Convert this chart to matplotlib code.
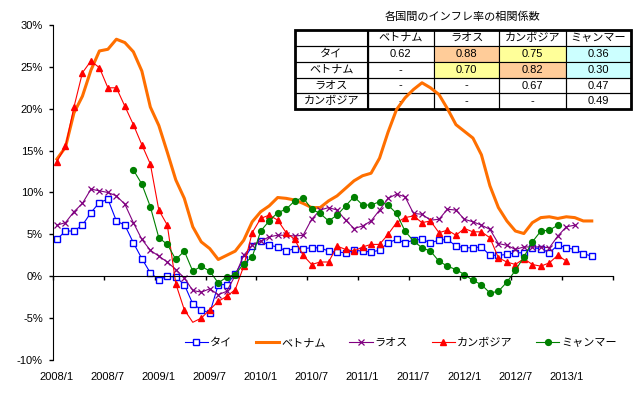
import numpy as np
import matplotlib.pyplot as plt
from matplotlib.patches import Rectangle

plt.rcParams['font.family'] = ['Liberation Sans', 'Noto Sans CJK JP']
plt.rcParams['font.size'] = 8

# 月次データ (2008/1 から, %)
n_months = 66
xlabels = ['2008/1', '2008/7', '2009/1', '2009/7', '2010/1', '2010/7',
           '2011/1', '2011/7', '2012/1', '2012/7', '2013/1']

thai = [4.4, 5.4, 5.4, 6.1, 7.6, 8.8, 9.2, 6.6, 6.1, 4.0, 2.1, 0.4, -0.4, 0.0, -0.1, -1.0,
        -3.3, -4.0, -4.4, -1.0, -1.0, 0.3, 2.0, 3.6, 4.2, 3.7, 3.5, 3.0, 3.3, 3.3, 3.4, 3.4,
        3.0, 2.9, 2.8, 3.1, 3.0, 2.9, 3.1, 4.0, 4.4, 4.0, 4.3, 4.4, 4.0, 4.3, 4.4, 3.6,
        3.4, 3.4, 3.5, 2.5, 2.5, 2.6, 2.8, 2.8, 3.4, 3.3, 2.8, 3.7, 3.4, 3.2, 2.7, 2.4]
vietnam = [14.0, 15.4, 19.5, 21.5, 24.6, 26.9, 27.1, 28.3, 27.9, 26.8, 24.5, 20.2, 18.0, 14.8,
           11.5, 9.3, 5.9, 4.1, 3.3, 2.0, 2.5, 3.0, 4.3, 6.5, 7.7, 8.4, 9.4, 9.3, 9.1, 8.7,
           8.2, 8.2, 9.0, 9.6, 10.5, 11.4, 12.0, 12.3, 14.1, 17.2, 19.9, 21.3, 22.3, 23.1,
           22.5, 21.7, 20.0, 18.1, 17.3, 16.5, 14.5, 10.8, 8.2, 6.6, 5.4, 5.1, 6.4, 7.0,
           7.1, 6.9, 7.1, 7.0, 6.6, 6.6]
laos = [6.1, 6.4, 7.7, 8.7, 10.4, 10.2, 10.0, 9.6, 8.6, 6.4, 4.4, 3.1, 2.4, 1.7, 0.8, -0.2,
        -1.7, -1.9, -1.5, -2.2, -1.8, 0.1, 2.5, 3.7, 4.2, 4.7, 4.9, 4.9, 4.8, 4.9, 6.8, 7.9,
        8.2, 7.9, 6.7, 5.7, 6.0, 6.6, 7.9, 9.3, 9.8, 9.5, 7.5, 7.4, 6.7, 6.8, 8.0, 7.9,
        6.8, 6.5, 6.1, 5.6, 3.9, 3.7, 3.2, 3.5, 3.5, 3.5, 3.4, 4.8, 5.9, 6.1]
cambodia = [13.7, 15.5, 20.2, 24.3, 25.7, 24.9, 22.5, 22.5, 20.3, 18.1, 15.7, 13.4, 7.9, 6.1,
            -0.9, -4.0, -5.5, -5.0, -4.0, -3.0, -2.4, -1.6, 1.2, 5.2, 6.9, 7.3, 6.7, 5.2,
            4.4, 2.5, 1.4, 1.7, 1.7, 3.6, 3.2, 3.0, 3.5, 3.8, 3.8, 5.0, 6.4, 7.0, 7.2, 6.4,
            6.6, 5.2, 5.5, 4.9, 5.7, 5.3, 5.3, 4.6, 2.2, 1.7, 1.4, 2.1, 1.4, 1.2, 1.6, 2.5, 1.8]
myanmar_start = 9
myanmar = [12.7, 11.0, 8.3, 4.6, 3.8, 2.0, 3.0, 0.6, 1.2, 0.6, -0.8, -0.1, 0.2, 1.5, 2.3,
           5.4, 6.6, 7.6, 8.0, 9.0, 9.4, 8.0, 7.5, 6.6, 7.3, 8.4, 9.5, 8.5, 8.5, 8.9, 8.5,
           7.5, 5.4, 4.2, 3.4, 3.0, 1.8, 1.2, 0.8, 0.2, -0.5, -1.0, -2.0, -1.8, -0.7, 0.7,
           2.3, 4.1, 5.4, 5.5, 6.1]

# 相関係数表
corr_title = '各国間のインフレ率の相関係数'
corr_cols = ['ベトナム', 'ラオス', 'カンボジア', 'ミャンマー']
corr_rows = ['タイ', 'ベトナム', 'ラオス', 'カンボジア']
corr_vals = [['0.62', '0.88', '0.75', '0.36'],
             ['-', '0.70', '0.82', '0.30'],
             ['-', '-', '0.67', '0.47'],
             ['-', '-', '-', '0.49']]
corr_fill = [[None, '#FFCC99', '#FFFF99', '#CCFFFF'],
             [None, '#FFFF99', '#FFCC99', '#CCFFFF'],
             [None, None, None, None],
             [None, None, None, None]]

fig = plt.figure(figsize=(6.39, 3.93), dpi=100)
ax = fig.add_axes([0.0825, 0.084, 0.8768, 0.8524])
tax = fig.add_axes([0.4617, 0.7219, 0.5253, 0.2018])
ax.set_zorder(2)
tax.set_zorder(1)
ax.patch.set_alpha(0)

x = np.arange(n_months)
ax.plot(x[:len(thai)], thai, color='#0000FF', lw=0.8, marker='s', ms=4,
        mfc='white', mec='#0000FF', mew=1, label='タイ')
ax.plot(x[:len(vietnam)], vietnam, color='#FF6F00', lw=2.2, label='ベトナム')
ax.plot(x[:len(laos)], laos, color='#800080', lw=0.8, marker='x', ms=4,
        mew=0.9, label='ラオス')
# 2009/5 の点はマーカーなし
cam_marks = [i for i in range(len(cambodia)) if i != 16]
ax.plot(x[:len(cambodia)], cambodia, color='#FF0000', lw=0.8, marker='^', ms=5,
        markevery=cam_marks, label='カンボジア')
ax.plot(x[myanmar_start:myanmar_start + len(myanmar)], myanmar, color='#008000', lw=0.8,
        marker='o', ms=4.2, label='ミャンマー')

ax.set_xlim(-0.5, n_months - 0.5)
ax.set_ylim(-10, 30)
yt = list(range(-10, 31, 5))
ax.set_yticks(yt)
ax.set_yticklabels([f'{v}%' for v in yt])
ax.set_xticks(np.arange(-0.5, n_months, 6))
ax.set_xticklabels([])
ax.tick_params(axis='both', direction='out', length=3, width=1, pad=4)
ax.spines['bottom'].set_position(('data', 0))
ax.spines['top'].set_visible(False)
ax.spines['right'].set_visible(False)
for i, lab in enumerate(xlabels):
    ax.text(i * 6, -0.05, lab, transform=ax.get_xaxis_transform(),
            ha='center', va='center')

ax.legend(loc='center', bbox_to_anchor=(0.6216, 0.0507), ncol=5, frameon=False,
          handlelength=2.1, handletextpad=0.2, columnspacing=2.1, borderpad=0)

# 表
cell_text = [[''] + corr_cols] + [[r] + v for r, v in zip(corr_rows, corr_vals)]
col_w = [72.7, 66.3, 65.3, 66.7, 64.7]
col_w = [w / sum(col_w) for w in col_w]
tbl = tax.table(cellText=cell_text, cellLoc='center', colWidths=col_w, bbox=[0, 0, 1, 1])
tbl.auto_set_font_size(False)
tbl.set_fontsize(8)
for (r, c), cell in tbl.get_celld().items():
    cell.set_linewidth(0.8)
    cell.set_edgecolor('black')
    fill = corr_fill[r - 1][c - 1] if r > 0 and c > 0 else None
    cell.set_facecolor(fill if fill else 'none')
tax.add_patch(Rectangle((0, 0), 1, 1, transform=tax.transAxes, fill=False,
                        lw=2, ec='black', clip_on=False, zorder=5))
tax.plot([col_w[0], col_w[0]], [0, 1], color='black', lw=1.5, zorder=5)
tax.set_xlim(0, 1)
tax.set_ylim(0, 1)
tax.axis('off')
fig.text(463 / 639, 1 - 17 / 393, corr_title, ha='center', va='center')

fig.savefig('out.png', dpi=100)
